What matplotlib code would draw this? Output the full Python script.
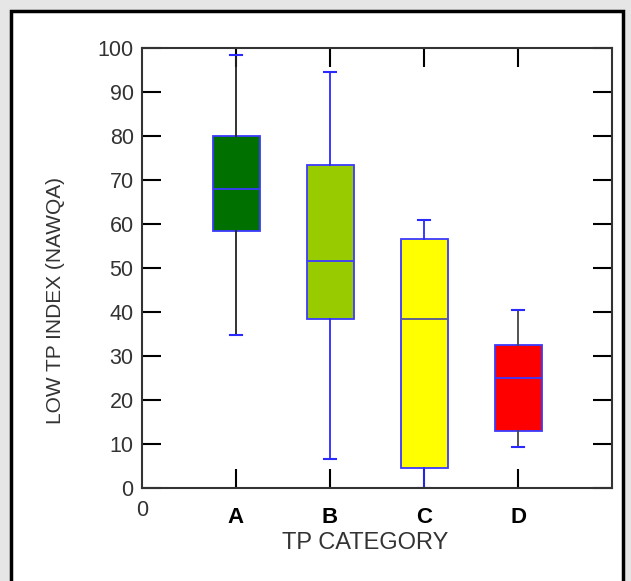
import matplotlib.pyplot as plt
from matplotlib.patches import Rectangle

# box statistics
categories = ['A', 'B', 'C', 'D']
q1 = [58.5, 38.5, 4.5, 13.0]
medians = [68.0, 51.5, 38.5, 25.0]
q3 = [80.0, 73.5, 56.5, 32.5]
whislo = [34.8, 6.5, 0.0, 9.3]
whishi = [98.5, 94.5, 61.0, 40.5]
box_colors = ['#007000', '#99cc00', '#ffff00', '#ff0000']
whisker_colors = ['#222222', '#2a2aff', '#2a2aff', '#444444']

stats = []
for i, c in enumerate(categories):
    stats.append(dict(label=c, q1=q1[i], med=medians[i], q3=q3[i],
                      whislo=whislo[i], whishi=whishi[i], fliers=[]))

fig = plt.figure(figsize=(6.31, 5.81), dpi=100, facecolor='#e6e6e6')
# white panel with black frame
fig.patches.append(Rectangle((11 / 631, -0.05), (623 - 11) / 631, 1.05 - 11 / 581,
                             transform=fig.transFigure, facecolor='white',
                             edgecolor='black', linewidth=2.5, zorder=-10))

ax = fig.add_axes([142 / 631, 1 - 488 / 581, (612 - 142) / 631, (488 - 48) / 581])
ax.set_zorder(5)
ax.set_facecolor('white')

pos = list(range(1, len(categories) + 1))
bp = ax.bxp(stats, positions=pos, widths=0.5, patch_artist=True,
            showfliers=False, capwidths=0.12)
for i, box in enumerate(bp['boxes']):
    box.set_facecolor(box_colors[i])
    box.set_edgecolor('#3a3aff')
    box.set_linewidth(1.3)
for i, med in enumerate(bp['medians']):
    med.set_color('#3a3aff' if i != 2 else '#555599')
    med.set_linewidth(1.3)
for j, w in enumerate(bp['whiskers']):
    w.set_color(whisker_colors[j // 2])
    w.set_linewidth(1.3)
for cap in bp['caps']:
    cap.set_color('#2a2aff')
    cap.set_linewidth(1.5)

ax.set_xlim(0, 5)
ax.set_ylim(0, 100)
ax.set_yticks(range(0, 101, 10))
ax.set_xticks(pos)
ax.set_xticklabels(categories, fontweight='bold', fontsize=16,
                   family='Liberation Sans', color='black')

ax.tick_params(axis='y', direction='in', length=14, width=1.5, right=True,
               labelsize=15.5, labelcolor='#333333', pad=6)
ax.tick_params(axis='x', direction='in', length=14, width=1.5, top=True,
               pad=14)
for sp in ax.spines.values():
    sp.set_color('#333333')
    sp.set_linewidth(1.5)
for t in ax.get_yticklabels():
    t.set_family('Liberation Sans')

# the lone "0" under the origin
ax.annotate('0', xy=(0, 0), xycoords=('data', 'axes fraction'),
            xytext=(0, -9), textcoords='offset points', ha='center', va='top',
            fontsize=15.5, color='#333333', family='Liberation Sans')

ax.set_ylabel('LOW TP INDEX (NAWQA)', fontsize=15, color='#333333',
              family='Liberation Sans')
ax.yaxis.set_label_coords(-0.183, 0.427)
ax.yaxis.label.set_va('center')
ax.set_xlabel('TP CATEGORY', fontsize=17, color='#333333',
              family='Liberation Sans')
ax.xaxis.set_label_coords(0.474, -0.125)
ax.xaxis.label.set_va('center')

fig.savefig('out.png', dpi=100, facecolor=fig.get_facecolor())
